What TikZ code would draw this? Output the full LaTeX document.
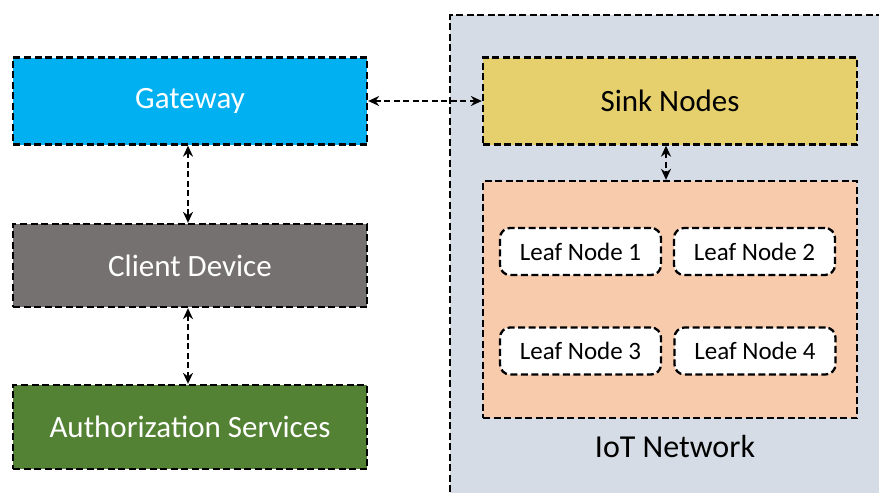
\documentclass[tikz,border=0pt]{standalone}
\usepackage{fontspec}
\setmainfont{Carlito}
\usetikzlibrary{arrows.meta}
\definecolor{gwblue}{HTML}{00B0F0}
\definecolor{clgray}{HTML}{767171}
\definecolor{authgreen}{HTML}{548235}
\definecolor{netbg}{HTML}{D6DCE5}
\definecolor{sinkyellow}{HTML}{E6D06E}
\definecolor{leafbg}{HTML}{F8CBAD}
\tikzset{
  dashbox/.style={draw=black, line width=2.3pt, dash pattern=on 7pt off 3.5pt},
  mainbox/.style={dashbox, rectangle, minimum width=354pt, minimum height=87pt,
    inner sep=0pt, text=white, font=\fontsize{31}{36}\selectfont},
  leafbox/.style={dashbox, rectangle, rounded corners=10pt, fill=white,
    minimum width=161pt, minimum height=47pt, inner sep=0pt,
    font=\fontsize{25}{30}\selectfont},
  link/.style={line width=2.3pt, dash pattern=on 6pt off 3.5pt,
    {Stealth[length=11pt,width=10pt]}-{Stealth[length=11pt,width=10pt]}}
}
\begin{document}
\begin{tikzpicture}[x=1pt,y=-1pt]
\useasboundingbox (0,0) rectangle (879,493);
% IoT network region, running past the right and bottom edges
\begin{scope}
\clip (0,0) rectangle (879,493);
\node[dashbox, fill=netbg, rectangle, minimum width=460pt, minimum height=500pt,
  inner sep=0pt, anchor=north west] (net) at (449,14) {};
\end{scope}
\node[font=\fontsize{32}{38}\selectfont] (netlabel) at (675,447) {IoT Network};

% left column
\node[mainbox, fill=gwblue] (gw) at (190,101) {Gateway};
\node[mainbox, fill=clgray, minimum height=83pt] (cd) at (190,265.5) {Client Device};
\node[mainbox, fill=authgreen, minimum height=84pt] (auth) at (190,427) {Authorization Services};

% sink and leaf nodes
\node[mainbox, fill=sinkyellow, text=black, minimum width=374pt] (sink) at (670,101) {Sink Nodes};
\node[dashbox, fill=leafbg, rectangle, minimum width=374pt, minimum height=237pt,
  inner sep=0pt] (leaves) at (670,299.5) {};
\node[leafbox] (l1) at (580.5,251.5) {Leaf Node 1};
\node[leafbox] (l2) at (754.5,251.5) {Leaf Node 2};
\node[leafbox] (l3) at (580.5,351) {Leaf Node 3};
\node[leafbox] (l4) at (755,351) {Leaf Node 4};

% connectors
\draw[link] (gw.east) -- (sink.west);
\draw[link] (gw.south -| 188,0) -- (cd.north -| 188,0);
\draw[link] (cd.south -| 188,0) -- (auth.north -| 188,0);
\draw[link] (sink.south -| 666,0) -- (leaves.north -| 666,0);
\end{tikzpicture}
\end{document}
